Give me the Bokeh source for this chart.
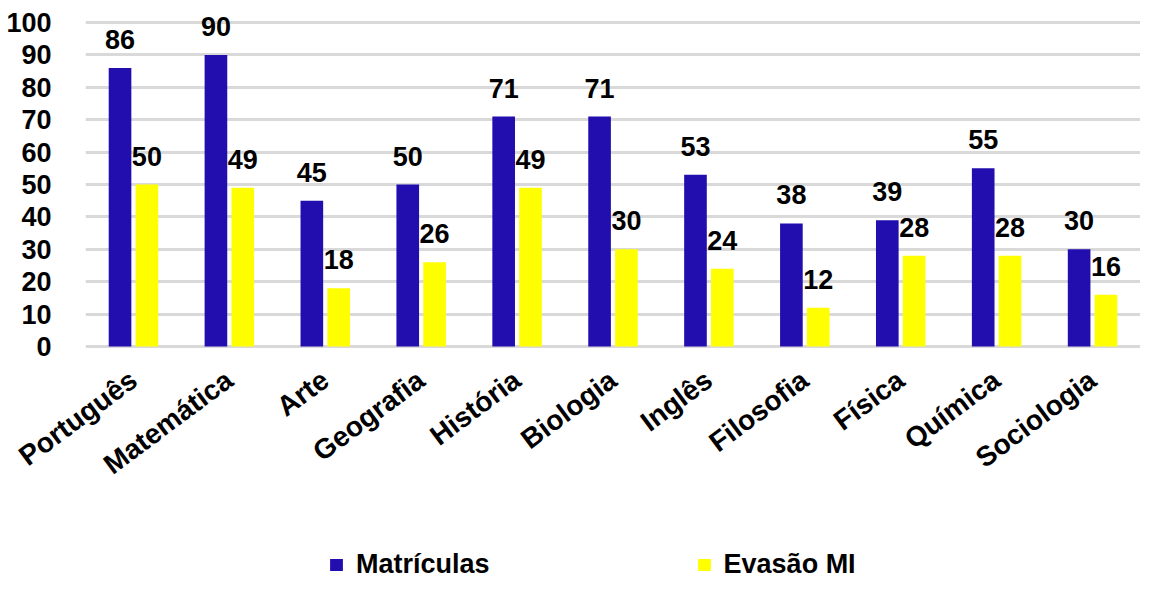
from bokeh.plotting import figure
from bokeh.models import ColumnDataSource, FixedTicker, Legend, LegendItem, Range1d
from bokeh.layouts import column
from bokeh.transform import dodge
from bokeh.core.properties import value
from bokeh.embed import file_html
from bokeh.resources import INLINE

categories = ["Português", "Matemática", "Arte", "Geografia", "História", "Biologia",
              "Inglês", "Filosofia", "Física", "Química", "Sociologia"]
matriculas = [86, 90, 45, 50, 71, 71, 53, 38, 39, 55, 30]
evasao = [50, 49, 18, 26, 49, 30, 24, 12, 28, 28, 16]
series_names = ["Matrículas", "Evasão MI"]
y_ticks = list(range(0, 101, 10))

BLUE = "#220DAF"
YELLOW = "#FFFF00"
FONT = "Liberation Sans"

src = ColumnDataSource(dict(
    cat=categories, m=matriculas, e=evasao,
    ml=[str(v) for v in matriculas], el=[str(v) for v in evasao],
))

MAIN_H = 547
p = figure(x_range=categories, y_range=Range1d(-0.6, 106.8),
           width=1140, height=MAIN_H, output_backend="svg", toolbar_location=None,
           min_border_left=85, min_border_right=0, min_border_top=0,
           min_border_bottom=MAIN_H - 348)
p.outline_line_color = None
p.xgrid.grid_line_color = None
p.ygrid.grid_line_color = "#D9D9D9"
p.ygrid.grid_line_width = 3
p.yaxis.ticker = FixedTicker(ticks=y_ticks)

bw = 0.236
off = 0.14
p.vbar(x=dodge("cat", -off, range=p.x_range), top="m", bottom=0, width=bw,
       source=src, fill_color=BLUE, line_color=None)
p.vbar(x=dodge("cat", off, range=p.x_range), top="e", bottom=0, width=bw,
       source=src, fill_color=YELLOW, line_color=None)

for col, lab, o in (("m", "ml", -off), ("e", "el", off)):
    p.text(x=dodge("cat", o, range=p.x_range), y=col, text=lab, source=src,
           text_align="center", text_baseline="bottom", y_offset=-19,
           text_font=value(FONT), text_font_size="27px",
           text_font_style="bold", text_color="black")

for ax in (p.xaxis, p.yaxis):
    ax.axis_line_color = None
    ax.major_tick_line_color = None
    ax.minor_tick_line_color = None
    ax.major_label_text_font = FONT
    ax.major_label_text_font_style = "bold"
    ax.major_label_text_font_size = "27px"
    ax.major_label_text_color = "black"

p.yaxis.major_label_standoff = 28
p.xaxis.major_label_orientation = 0.64
p.xaxis.major_label_standoff = 22
p.xaxis.major_label_text_font_size = "28px"

# legend strip: same series drawn entirely outside its visible y range, so only the legend shows
LEG_H = 581 - MAIN_H
q = figure(width=1140, height=LEG_H, x_range=categories, y_range=Range1d(500, 501),
           output_backend="svg", toolbar_location=None, x_axis_type=None, y_axis_type=None,
           min_border=0)
q.outline_line_color = None
q.grid.visible = False
l1 = q.vbar(x="cat", top="m", bottom=0, width=0.2, source=src, fill_color=BLUE, line_color=None)
l2 = q.vbar(x="cat", top="e", bottom=0, width=0.2, source=src, fill_color=YELLOW, line_color=None)
legend = Legend(items=[LegendItem(label=series_names[0], renderers=[l1]),
                       LegendItem(label=series_names[1], renderers=[l2])],
                orientation="horizontal", location=(243, 1),
                glyph_width=16, glyph_height=15, label_standoff=12, spacing=206,
                padding=0, margin=0, border_line_color=None, background_fill_alpha=0,
                label_text_font=FONT, label_text_font_style="bold",
                label_text_font_size="27px", label_text_color="black")
q.add_layout(legend, "center")

layout = column(p, q, spacing=0)
open("out.html", "w").write(file_html(layout, INLINE))
